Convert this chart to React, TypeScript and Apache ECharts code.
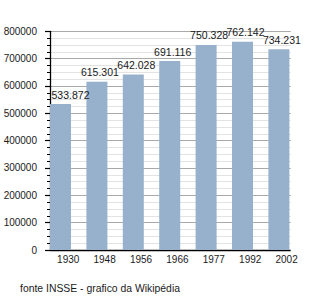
import React, { useEffect, useRef } from "react";
import * as echarts from "echarts";

const categories = ["1930", "1948", "1956", "1966", "1977", "1992", "2002"];
const populations = [533872, 615301, 642028, 691116, 750328, 762142, 734231];
const valueLabels = ["533.872", "615.301", "642.028", "691.116", "750.328", "762.142", "734.231"];
const yTicks = { min: 0, max: 800000, interval: 100000 };
const footer = "fonte INSSE - grafico da Wikipédia";

const FONT = "'Liberation Sans', Arial, sans-serif";

export default function App() {
  const ref = useRef<HTMLDivElement>(null);
  useEffect(() => {
    if (!ref.current) return;
    const chart = echarts.init(ref.current, undefined, { renderer: "svg" });
    chart.setOption({
      animation: false,
      textStyle: { fontFamily: FONT },
      grid: { left: 50, top: 31.3, bottom: 50, width: 254.8, containLabel: false },
      xAxis: {
        type: "category",
        data: categories,
        boundaryGap: true,
        axisLine: { show: true, lineStyle: { color: "#000", width: 1.3 } },
        axisTick: { show: false },
        axisLabel: { color: "#1a1a1a", fontSize: 10, margin: 4, fontFamily: FONT },
        splitLine: { show: false },
      },
      yAxis: {
        type: "value",
        min: yTicks.min,
        max: yTicks.max,
        interval: yTicks.interval,
        axisLine: { show: true, lineStyle: { color: "#000", width: 1.3 } },
        axisTick: { show: true, length: 5, lineStyle: { color: "#000", width: 1.2 } },
        minorTick: { show: true, splitNumber: 4, length: 3, lineStyle: { color: "#000", width: 1 } },
        axisLabel: {
          color: "#1a1a1a",
          fontSize: 10,
          margin: 13,
          fontFamily: FONT,
          formatter: (v: number) => String(v),
        },
        splitLine: { show: true, lineStyle: { color: "#a9a9a9", width: 1 } },
        minorSplitLine: { show: true, lineStyle: { color: "#e3e3e3", width: 1 } },
      },
      series: [
        {
          type: "bar",
          barWidth: 21,
          barGap: "0%",
          itemStyle: { color: "#97b1cc" },
          data: populations.map((v, i) =>
            i === 0 ? { value: v, label: { offset: [10, 0] } } : v
          ),
          label: {
            show: true,
            position: "top",
            distance: 4,
            offset: [3, 0],
            color: "#1a1a1a",
            fontSize: 10.5,
            fontFamily: FONT,
            formatter: (p: any) => valueLabels[p.dataIndex],
          },
          z: 3,
        },
        {
          type: "bar",
          barWidth: 15.4,
          barGap: "0%",
          data: categories.map(() => "-"),
          silent: true,
        },
      ],
      graphic: [
        {
          type: "rect",
          z: 1,
          shape: { x: 290.7, y: 20, width: 30, height: 235 },
          style: { fill: "#fff" },
        },
        {
          type: "text",
          z: 5,
          x: 20,
          y: 288,
          style: {
            text: footer,
            fill: "#1a1a1a",
            fontSize: 10.4,
            fontFamily: FONT,
            verticalAlign: "middle",
            align: "left",
          },
        },
      ],
    });
    return () => chart.dispose();
  }, []);
  return (
    <div
      ref={ref}
      style={{ position: "fixed", left: 0, top: 0, width: 320, height: 300, background: "#fff" }}
    />
  );
}
